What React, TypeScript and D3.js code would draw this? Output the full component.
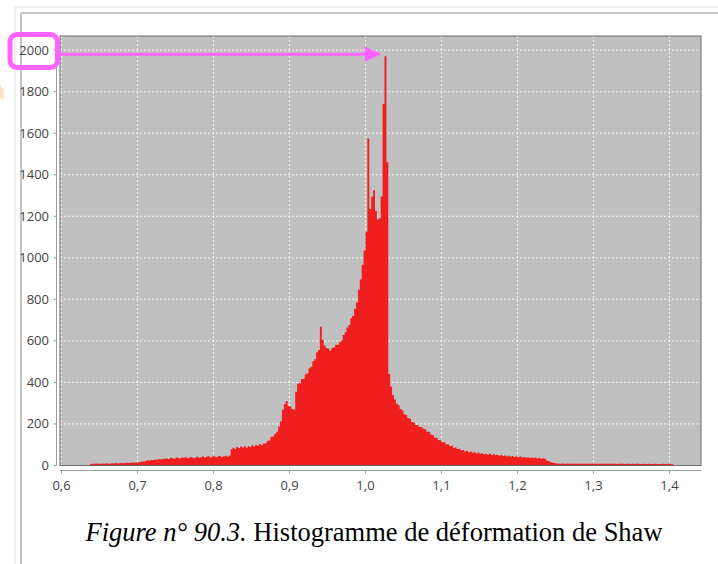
import React from "react";
import * as d3 from "d3";

// Histogram bins: start of first bin and uniform width (strain ratio)
const binStart = 0.6375;
const binWidth = 0.0025;

// Counts per bin, rows of 20 bins (0.05 each)
const counts: number[] = [
  // 0.6375 – 0.685
  7, 9, 8, 10, 9, 8, 10, 9, 11, 10, 9, 11, 10, 12, 10, 11, 12, 11, 12, 13,
  // 0.6875 – 0.735
  12, 13, 14, 13, 15, 14, 17, 19, 18, 22, 25, 24, 27, 26, 29, 28, 31, 30, 33, 32,
  // 0.7375 – 0.785
  34, 31, 37, 35, 33, 38, 36, 34, 39, 37, 40, 35, 38, 41, 36, 39, 42, 37, 40, 43,
  // 0.7875 – 0.835
  38, 42, 44, 39, 43, 45, 40, 44, 46, 41, 45, 47, 42, 48, 78, 86, 80, 89, 84, 91,
  // 0.8375 – 0.885
  87, 93, 86, 94, 89, 97, 92, 99, 95, 103, 97, 106, 107, 118, 122, 138, 140, 153, 162, 188,
  // 0.8875 – 0.935
  212, 268, 296, 310, 286, 284, 272, 270, 355, 394, 396, 415, 418, 438, 444, 468, 476, 502, 511, 545,
  // 0.9375 – 0.985
  556, 668, 606, 578, 564, 563, 552, 566, 568, 582, 581, 594, 602, 628, 641, 664, 676, 709, 721, 755,
  // 0.9875 – 1.035
  785, 846, 895, 966, 1035, 1125, 1575, 1235, 1295, 1325, 1225, 1185, 1190, 1295, 1740, 1970, 1460, 440, 380, 340,
  // 1.0375 – 1.085
  318, 297, 290, 272, 265, 247, 243, 229, 225, 209, 207, 195, 194, 185, 185, 177, 174, 163, 162, 149,
  // 1.0875 – 1.135
  147, 135, 134, 123, 122, 112, 112, 102, 102, 94, 95, 86, 87, 79, 81, 73, 75, 68, 71, 64,
  // 1.1375 – 1.185
  67, 61, 64, 58, 62, 56, 59, 54, 57, 52, 56, 50, 54, 49, 52, 47, 50, 46, 48, 44,
  // 1.1875 – 1.235
  47, 43, 46, 41, 44, 40, 43, 39, 41, 38, 40, 36, 39, 35, 38, 34, 37, 33, 35, 33,
  // 1.2375 – 1.285
  24, 20, 17, 14, 12, 10, 10, 9, 10, 9, 9, 10, 9, 8, 9, 9, 8, 9, 9, 8,
  // 1.2875 – 1.335
  9, 8, 9, 8, 9, 9, 8, 8, 9, 8, 8, 9, 8, 8, 9, 8, 8, 7, 8, 8,
  // 1.3375 – 1.385
  8, 7, 8, 8, 7, 8, 7, 8, 8, 7, 7, 8, 7, 7, 8, 7, 7, 8, 7, 7,
  // 1.3875 – 1.4025
  7, 8, 7, 7, 8, 7, 6,
];

const xTicks = [0.6, 0.7, 0.8, 0.9, 1.0, 1.1, 1.2, 1.3, 1.4];
const yTicks = [0, 200, 400, 600, 800, 1000, 1200, 1400, 1600, 1800, 2000];
const xDomain = [0.598, 1.4415];
const yDomain = [0, 2068];
const captionItalic = "Figure n° 90.3.";
const captionRest = " Histogramme de déformation de Shaw";
const highlightedValue = 2000;
const arrowLevel = 1980;
const arrowTipX = 1.0215;

const W = 718;
const H = 564;
const plot = { left: 60, right: 701, top: 36, bottom: 465.5 };

export default function App() {
  const x = d3.scaleLinear().domain(xDomain).range([plot.left, plot.right]);
  const y = d3.scaleLinear().domain(yDomain).range([plot.bottom, plot.top]);

  const pts: [number, number][] = counts.map((c, i) => [binStart + i * binWidth, c]);
  pts.push([binStart + counts.length * binWidth, 0]);
  const area = d3
    .area<[number, number]>()
    .x((d) => x(d[0]))
    .y0(y(0))
    .y1((d) => y(d[1]))
    .curve(d3.curveStepAfter);

  const fmt = (v: number) => v.toFixed(1).replace(".", ",");
  const axisY = 470.5;
  const yAxisX = 56.5;
  const tickFont = "'Open Sans', 'DejaVu Sans', sans-serif";

  const hy = y(highlightedValue);
  const ay = y(arrowLevel);
  const tipX = x(arrowTipX);
  const magenta = "#ff63ff";

  return (
    <svg
      width={W}
      height={H}
      style={{ position: "absolute", left: 0, top: 0, background: "#fff" }}
    >
      {/* window frame */}
      <line x1={15} y1={7} x2={W} y2={7} stroke="#efefef" strokeWidth={2} />
      <line x1={15} y1={7} x2={15} y2={H} stroke="#efefef" strokeWidth={2} />
      <line x1={21} y1={13} x2={W} y2={13} stroke="#c4c4c4" strokeWidth={2} />
      <line x1={21} y1={13} x2={21} y2={H} stroke="#c4c4c4" strokeWidth={2} />
      <path d="M0,84 L4,90 L3,100 L0,98 Z" fill="#fbd3b0" opacity={0.7} />

      {/* plot background */}
      <rect
        x={plot.left}
        y={plot.top}
        width={plot.right - plot.left}
        height={plot.bottom - plot.top}
        fill="#c0c0c0"
      />
      {/* grid */}
      {xTicks.map((t) => (
        <line
          key={"gx" + t}
          x1={x(t)}
          x2={x(t)}
          y1={plot.top}
          y2={plot.bottom}
          stroke="#f4f4f4"
          strokeWidth={1}
          strokeDasharray="2,2"
        />
      ))}
      {yTicks.map((t) => (
        <line
          key={"gy" + t}
          x1={plot.left}
          x2={plot.right}
          y1={y(t)}
          y2={y(t)}
          stroke="#f4f4f4"
          strokeWidth={1}
          strokeDasharray="2,2"
        />
      ))}
      {/* histogram */}
      <path d={area(pts) || ""} fill="#f01f1f" />
      {/* plot outline */}
      <rect
        x={plot.left}
        y={plot.top}
        width={plot.right - plot.left}
        height={plot.bottom - plot.top}
        fill="none"
        stroke="#6a6a6a"
        strokeWidth={1}
      />

      {/* x axis */}
      <line x1={plot.left} x2={plot.right} y1={axisY} y2={axisY} stroke="#9a9a9a" />
      {xTicks.map((t) => (
        <g key={"xt" + t}>
          <line x1={x(t)} x2={x(t)} y1={axisY} y2={axisY + 3} stroke="#9a9a9a" />
          <text
            x={x(t)}
            y={490}
            textAnchor="middle"
            fontFamily={tickFont}
            fontSize={13}
            fill="#444"
          >
            {fmt(t)}
          </text>
        </g>
      ))}

      {/* y axis */}
      <line x1={yAxisX} x2={yAxisX} y1={plot.top} y2={plot.bottom} stroke="#9a9a9a" />
      {yTicks.map((t) => (
        <g key={"yt" + t}>
          <line x1={yAxisX - 3} x2={yAxisX} y1={y(t)} y2={y(t)} stroke="#9a9a9a" />
          <text
            x={49}
            y={y(t) + 4.5}
            textAnchor="end"
            fontFamily={tickFont}
            fontSize={13}
            fill="#444"
          >
            {t}
          </text>
        </g>
      ))}

      {/* annotation */}
      <rect
        x={10}
        y={hy - 15.5}
        width={47.5}
        height={33}
        rx={7}
        fill="none"
        stroke={magenta}
        strokeWidth={5}
      />
      <line x1={59} x2={tipX - 16} y1={ay} y2={ay} stroke={magenta} strokeWidth={3} />
      <path
        d={`M${tipX},${ay} L${tipX - 17},${ay - 7.5} L${tipX - 17},${ay + 7.5} Z`}
        fill={magenta}
      />

      {/* caption */}
      <text
        x={374}
        y={541}
        textAnchor="middle"
        fontFamily="'Liberation Serif', 'Times New Roman', serif"
        fontSize={26.5}
        fill="#000"
      >
        <tspan fontStyle="italic">{captionItalic}</tspan>
        <tspan>{captionRest}</tspan>
      </text>
    </svg>
  );
}
